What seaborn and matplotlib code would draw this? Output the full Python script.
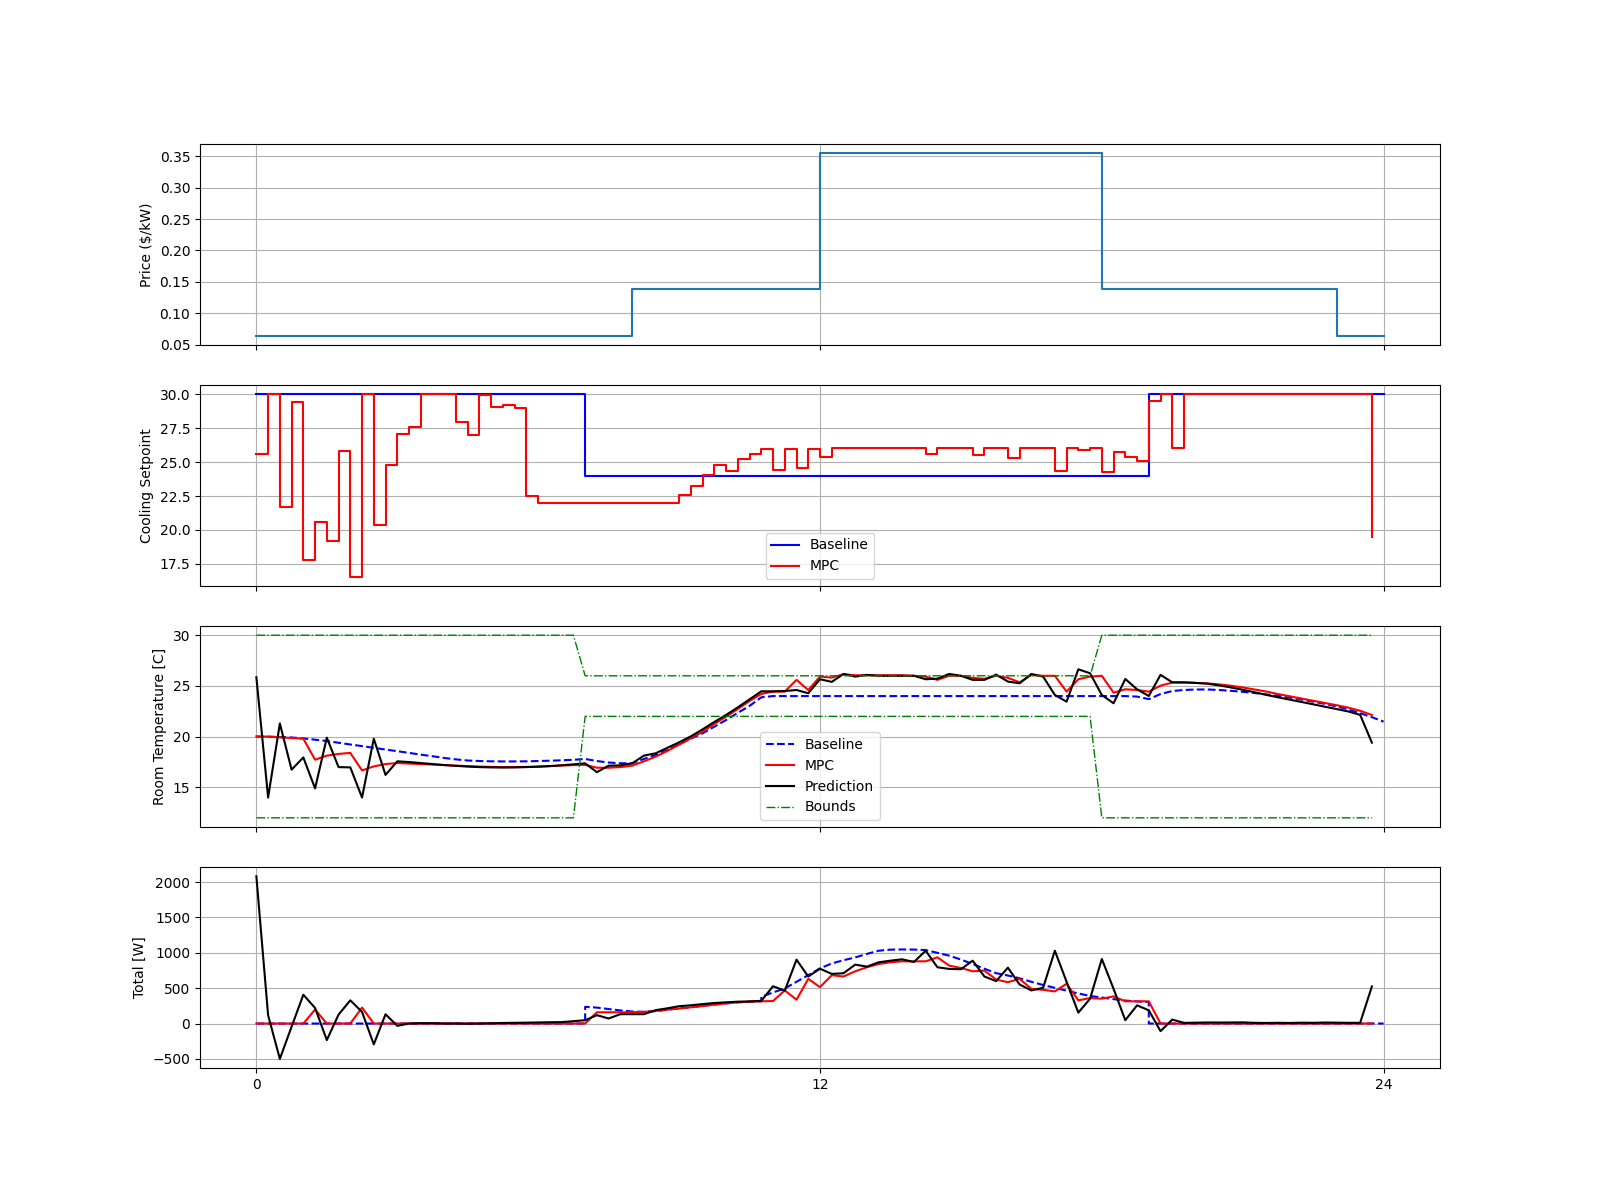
import numpy as np
import matplotlib
matplotlib.use("Agg")
import matplotlib.pyplot as plt
import seaborn as sns

# time axes (hours)
t_mpc = np.arange(96) * 0.25          # 15 min steps, 0 .. 23.75
t_base = np.arange(97) * 0.25         # 0 .. 24
t_price = np.arange(25)               # hourly, 0 .. 24

price = [0.064] * 8 + [0.139] * 4 + [0.355] * 6 + [0.139] * 5 + [0.064] * 2

# cooling setpoint
sp_base_t = [0, 7, 19, 24]
sp_base = [30, 24, 30, 30]
sp_mpc = [25.61, 30, 21.69, 29.44, 17.75, 20.61, 19.19, 25.83, 16.55, 30,
          20.4, 24.78, 27.08, 27.6, 30, 30, 30, 27.94, 26.99, 29.95,
          29.07, 29.17, 29.0, 22.5, 22.0, 22.0, 22.0, 22.0, 22.0, 22.0,
          22.0, 22.0, 22.0, 22.0, 22.0, 22.0, 22.6, 23.26, 24.04, 24.8,
          24.36, 25.24, 25.61, 25.98, 24.44, 25.98, 24.56, 25.98, 25.37, 26.0,
          26.0, 26.0, 26.0, 26.0, 26.0, 26.0, 26.0, 25.6, 26.0, 26.0,
          26.0, 25.5, 26.0, 26.0, 25.32, 26.0, 26.0, 26.0, 24.36, 26.0,
          25.9, 26.0, 24.29, 25.76, 25.37, 25.1, 29.5, 30, 26.03, 30,
          30, 30, 30, 30, 30, 30, 30, 30, 30, 30,
          30, 30, 30, 30, 30, 19.46]

# room temperature
temp_base = [20.0, 20.0, 19.97, 19.92, 19.83, 19.7, 19.57, 19.4, 19.23, 19.07,
             18.9, 18.73, 18.57, 18.4, 18.23, 18.07, 17.9, 17.76, 17.65, 17.6,
             17.57, 17.56, 17.56, 17.57, 17.6, 17.63, 17.67, 17.72, 17.8, 17.6,
             17.45, 17.38, 17.37, 17.8, 18.2, 18.68, 19.25, 19.8, 20.33, 20.98,
             21.64, 22.35, 23.03, 23.88, 24.0, 24.0, 24.0, 24.0, 24.0, 24.0,
             24.0, 24.0, 24.0, 24.0, 24.0, 24.0, 24.0, 24.0, 24.0, 24.0,
             24.0, 24.0, 24.0, 24.0, 24.0, 24.0, 24.0, 24.0, 24.0, 24.0,
             24.0, 24.0, 24.0, 24.0, 24.0, 23.95, 23.7, 24.2, 24.5, 24.6,
             24.65, 24.65, 24.6, 24.52, 24.42, 24.3, 24.17, 24.02, 23.85, 23.66,
             23.45, 23.23, 22.98, 22.68, 22.32, 21.92, 21.48]
temp_mpc = [20.03, 20.0, 19.93, 19.87, 19.8, 17.73, 18.13, 18.3, 18.4, 16.67,
            17.07, 17.3, 17.4, 17.35, 17.3, 17.25, 17.2, 17.15, 17.1, 17.05,
            17.02, 17.0, 17.0, 17.02, 17.05, 17.1, 17.15, 17.2, 17.22, 16.94,
            16.94, 17.0, 17.14, 17.57, 18.03, 18.59, 19.21, 19.84, 20.49, 21.25,
            21.97, 22.73, 23.52, 24.21, 24.44, 24.44, 25.6, 24.6, 25.92, 25.82,
            26.15, 26.05, 26.05, 26.05, 26.05, 26.05, 26.0, 25.92, 25.6, 26.0,
            26.0, 25.8, 25.7, 26.0, 25.8, 25.36, 26.08, 26.0, 26.0, 24.44,
            25.66, 25.92, 26.0, 24.34, 24.67, 24.6, 24.44, 25.03, 25.33, 25.33,
            25.3, 25.25, 25.15, 25.02, 24.85, 24.65, 24.45, 24.2, 23.98, 23.76,
            23.54, 23.32, 23.1, 22.86, 22.55, 22.14]
temp_pred = [25.86, 14.0, 21.3, 16.75, 17.95, 14.9, 19.9, 17.0, 16.97, 14.0,
             19.8, 16.23, 17.57, 17.5, 17.4, 17.3, 17.2, 17.12, 17.05, 17.0,
             16.97, 16.96, 16.97, 17.0, 17.04, 17.1, 17.18, 17.27, 17.37, 16.5,
             17.14, 17.17, 17.37, 18.13, 18.36, 18.9, 19.44, 20.03, 20.72, 21.45,
             22.14, 22.89, 23.68, 24.47, 24.47, 24.5, 24.6, 24.28, 25.66, 25.4,
             26.18, 25.92, 26.09, 26.0, 26.0, 26.0, 26.0, 25.66, 25.72, 26.18,
             26.0, 25.6, 25.6, 26.12, 25.43, 25.26, 26.18, 25.92, 24.11, 23.45,
             26.64, 26.25, 24.11, 23.29, 25.69, 24.67, 24.01, 26.09, 25.36, 25.36,
             25.3, 25.22, 25.05, 24.85, 24.62, 24.38, 24.12, 23.88, 23.65, 23.42,
             23.19, 22.95, 22.72, 22.48, 22.15, 19.41]
upper_bound = [30] * 28 + [26] * 44 + [30] * 24
lower_bound = [12] * 28 + [22] * 44 + [12] * 24

# total power
pow_base_t = ([0, 7] + list(np.arange(28, 44) * 0.25) +
              list(np.arange(43, 77) * 0.25) + [19, 24])
pow_base = ([0, 0] +
            [236, 225, 205, 185, 170, 165, 175, 195, 215, 230,
             250, 268, 285, 300, 310, 315] +
            [378, 440, 496, 590, 684, 780, 850, 895, 935, 985,
             1030, 1045, 1048, 1046, 1039, 1000, 960, 905, 842, 775,
             712, 679, 640, 590, 545, 505, 465, 425, 390, 368,
             345, 325, 312, 304] +
            [0, 0])
pow_mpc = [0, 0, 0, 0, 0, 197, 0, 0, 0, 225,
           0, 0, 0, 0, 0, 0, 0, 0, 0, 0,
           0, 0, 0, 0, 0, 0, 0, 0, 0, 159,
           159, 159, 159, 165, 178, 197, 211, 229, 248, 267,
           285, 300, 309, 314, 318, 468, 337, 632, 515, 683,
           665, 739, 796, 842, 866, 880, 880, 880, 936, 819,
           786, 739, 749, 622, 585, 632, 491, 477, 454, 562,
           328, 360, 351, 384, 314, 314, 314, 0, 0, 0,
           0, 0, 0, 0, 0, 0, 0, 0, 0, 0,
           0, 0, 0, 0, 0, 0]
pow_pred = [2083, 117, -500, -45, 407, 220, -234, 126, 328, 164,
            -295, 131, -33, 0, 5, 5, 0, 0, -3, 0,
            3, 8, 10, 12, 15, 18, 20, 33, 47, 118,
            71, 132, 132, 132, 189, 215, 245, 258, 275, 290,
            300, 309, 312, 321, 527, 465, 903, 665, 775, 702,
            711, 833, 805, 866, 889, 908, 870, 1030, 796, 772,
            768, 889, 665, 599, 790, 552, 468, 505, 1030, 590,
            154, 351, 913, 491, 47, 257, 187, -108, 56, 9,
            12, 15, 14, 15, 16, 10, 8, 10, 8, 12,
            10, 14, 12, 10, 10, 524]

fig, axes = plt.subplots(4, 1, figsize=(16, 12), dpi=100, sharex=True)
ax1, ax2, ax3, ax4 = axes

sns.lineplot(x=t_price, y=price, ax=ax1, color="C0", drawstyle="steps-post",
             estimator=None, sort=False)
ax1.set_ylabel("Price ($/kW)")

sns.lineplot(x=sp_base_t, y=sp_base, ax=ax2, color="b", drawstyle="steps-post",
             estimator=None, sort=False, label="Baseline")
sns.lineplot(x=t_mpc, y=sp_mpc, ax=ax2, color="r", drawstyle="steps-post",
             estimator=None, sort=False, label="MPC")
ax2.set_ylabel("Cooling Setpoint")
ax2.legend(loc="lower center")

sns.lineplot(x=t_base, y=temp_base, ax=ax3, color="b", linestyle="--",
             estimator=None, sort=False, label="Baseline")
sns.lineplot(x=t_mpc, y=temp_mpc, ax=ax3, color="r",
             estimator=None, sort=False, label="MPC")
sns.lineplot(x=t_mpc, y=temp_pred, ax=ax3, color="k",
             estimator=None, sort=False, label="Prediction")
sns.lineplot(x=t_mpc, y=upper_bound, ax=ax3, color="g", linestyle="-.", linewidth=1,
             estimator=None, sort=False, label="Bounds")
sns.lineplot(x=t_mpc, y=lower_bound, ax=ax3, color="g", linestyle="-.", linewidth=1,
             estimator=None, sort=False)
ax3.set_ylabel("Room Temperature [C]")
ax3.legend(loc="lower center")

sns.lineplot(x=pow_base_t, y=pow_base, ax=ax4, color="b", linestyle="--",
             estimator=None, sort=False)
sns.lineplot(x=t_mpc, y=pow_mpc, ax=ax4, color="r", estimator=None, sort=False)
sns.lineplot(x=t_mpc, y=pow_pred, ax=ax4, color="k", estimator=None, sort=False)
ax4.set_ylabel("Total [W]")

for ax in axes:
    ax.grid(True)
ax4.set_xticks([0, 12, 24])

fig.savefig("out.png", dpi=100)
